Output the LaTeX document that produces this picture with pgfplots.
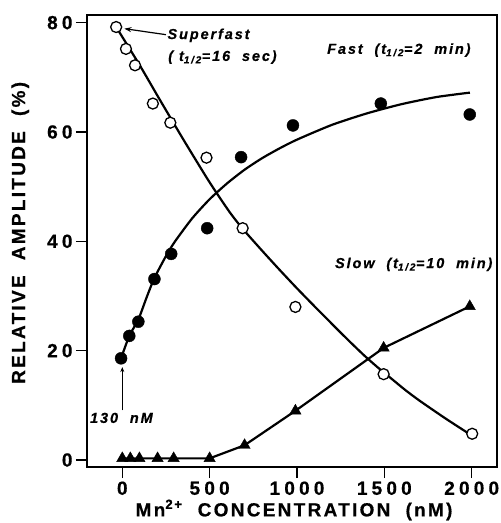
\documentclass[border=0pt]{standalone}
\usepackage{fontspec}
\setmainfont{Liberation Sans}
\newfontfamily\tickfam[LetterSpace=22,FakeBold=0.6]{Liberation Sans}
\newfontfamily\labfam[LetterSpace=12,FakeBold=0.6]{Liberation Sans}
\newfontfamily\annfam[LetterSpace=13,FakeBold=0.5]{Liberation Sans}
\newcommand\ticklbl{\fontsize{19bp}{21bp}\selectfont\tickfam\bfseries}
\newcommand\axlbl{\fontsize{19bp}{21bp}\selectfont\labfam\bfseries}
\newcommand\annf{\fontsize{14.5bp}{16bp}\selectfont\annfam\bfseries\itshape}
\usepackage{pgfplots}
\pgfplotsset{compat=1.18}
\usetikzlibrary{arrows.meta}
\begin{document}
\begin{tikzpicture}
\begin{axis}[
  name=ax, at={(0,0)}, anchor=south west,
  scale only axis, width=410bp, height=452bp,
  xmin=-202, xmax=2145, ymin=-1.28, ymax=81.4,
  xtick={0,500,1000,1500,2000}, xticklabels={0,500,1000,1500,2000},
  ytick={0,20,40,60,80}, yticklabels={0,20,40,60,80},
  tick pos=left, tick align=outside, major tick length=11bp,
  every tick/.style={black, line width=1.5bp},
  axis line style={line width=1.6bp},
  ticklabel style={font=\ticklbl},
  xlabel={Mn\textsuperscript{2+}~~CONCENTRATION~~(nM)},
  ylabel={RELATIVE~~AMPLITUDE~~(\%)},
  label style={font=\axlbl},
  xlabel style={at={(axis description cs:0.505,-0.095)}, anchor=center},
  ylabel style={at={(axis description cs:-0.163,0.518)}, anchor=center},
  clip=false,
]
% Superfast fitted curve
\addplot[black, line width=2.2bp, smooth, tension=0.4, no markers] coordinates {
 (-35,79.2) (100,72.2) (213,66.0) (350,58.6) (480,51.8) (545,48.6) (620,45.1)
 (689,42.3) (800,38.3) (900,34.8) (1000,31.4) (1113,27.7) (1250,23.3)
 (1320,21.1) (1389,19.0) (1460,17.0) (1540,14.9) (1620,12.8) (1704,10.8)
 (1850,7.6) (1990,4.7)};
% Fast fitted curve
\addplot[black, line width=2.2bp, smooth, tension=0.4, no markers] coordinates {
 (-7,18.6) (40,22.7) (92,25.7) (140,29.8) (184,33.3) (250,37.3) (300,39.9)
 (400,44.2) (500,47.7) (600,50.6) (700,53.1) (800,55.2) (900,57.0)
 (1000,58.6) (1200,61.3) (1400,63.4) (1600,65.1) (1800,66.4) (1990,67.2)};
% Slow line
\addplot[black, line width=2.2bp, no markers] coordinates {
 (0,0.3) (500,0.3) (700,2.7) (991,9.0) (1496,20.5) (1989,28.1)};
% Superfast points (open circles)
\addplot[only marks, mark=*, mark size=5.5bp, mark options={fill=white, draw=black, line width=1.3bp}] coordinates {
 (-35,79.2) (21,75.2) (73,72.2) (175,65.2) (275,61.7) (482,55.3) (689,42.4)
 (991,28.0) (1496,15.7) (2003,4.8)};
% Fast points (filled circles)
\addplot[only marks, mark=*, mark size=6bp, mark options={fill=black, draw=black}] coordinates {
 (-7,18.6) (40,22.7) (92,25.3) (184,33.1) (280,37.7) (486,42.4) (680,55.4)
 (977,61.2) (1480,65.2) (1989,63.2)};
% Slow points (triangles)
\addplot[only marks, mark=triangle*, mark size=6.5bp, mark options={fill=black, draw=black}] coordinates {
 (0,0.3) (46,0.3) (98,0.3) (202,0.3) (294,0.3) (500,0.3) (700,2.7)
 (991,9.0) (1496,20.5) (1989,28.1)};
% annotations
\draw[line width=1.2bp, -{Stealth[length=7bp,width=5bp]}] (axis cs:250,77.8) -- (axis cs:12,78.9);
\draw[line width=1.2bp, -{Stealth[length=5bp,width=4bp]}] (axis cs:0,9.1) -- (axis cs:0,17.0);
\node[anchor=base west, inner sep=0pt, font=\annf] at (axis cs:258,77.0) {Superfast};
\node[anchor=base west, inner sep=0pt, font=\annf] at (axis cs:262,73.0) {(~t\textsubscript{1\,/\,2}=16~~sec)};
\node[anchor=base west, inner sep=0pt, font=\annf] at (axis cs:1172,74.3) {Fast~~(t\textsubscript{1\,/\,2}=2~~min)};
\node[anchor=base west, inner sep=0pt, font=\annf] at (axis cs:1217,35.1) {Slow~~(t\textsubscript{1\,/\,2}=10~~min)};
\node[anchor=center, inner sep=0pt, font=\annf] at (axis cs:-5,7.7) {130~~nM};
\end{axis}
\pgfresetboundingbox
\path ([shift={(-87bp,-56bp)}]ax.south west) rectangle ([shift={(4bp,15bp)}]ax.north east);
\end{tikzpicture}
\end{document}
